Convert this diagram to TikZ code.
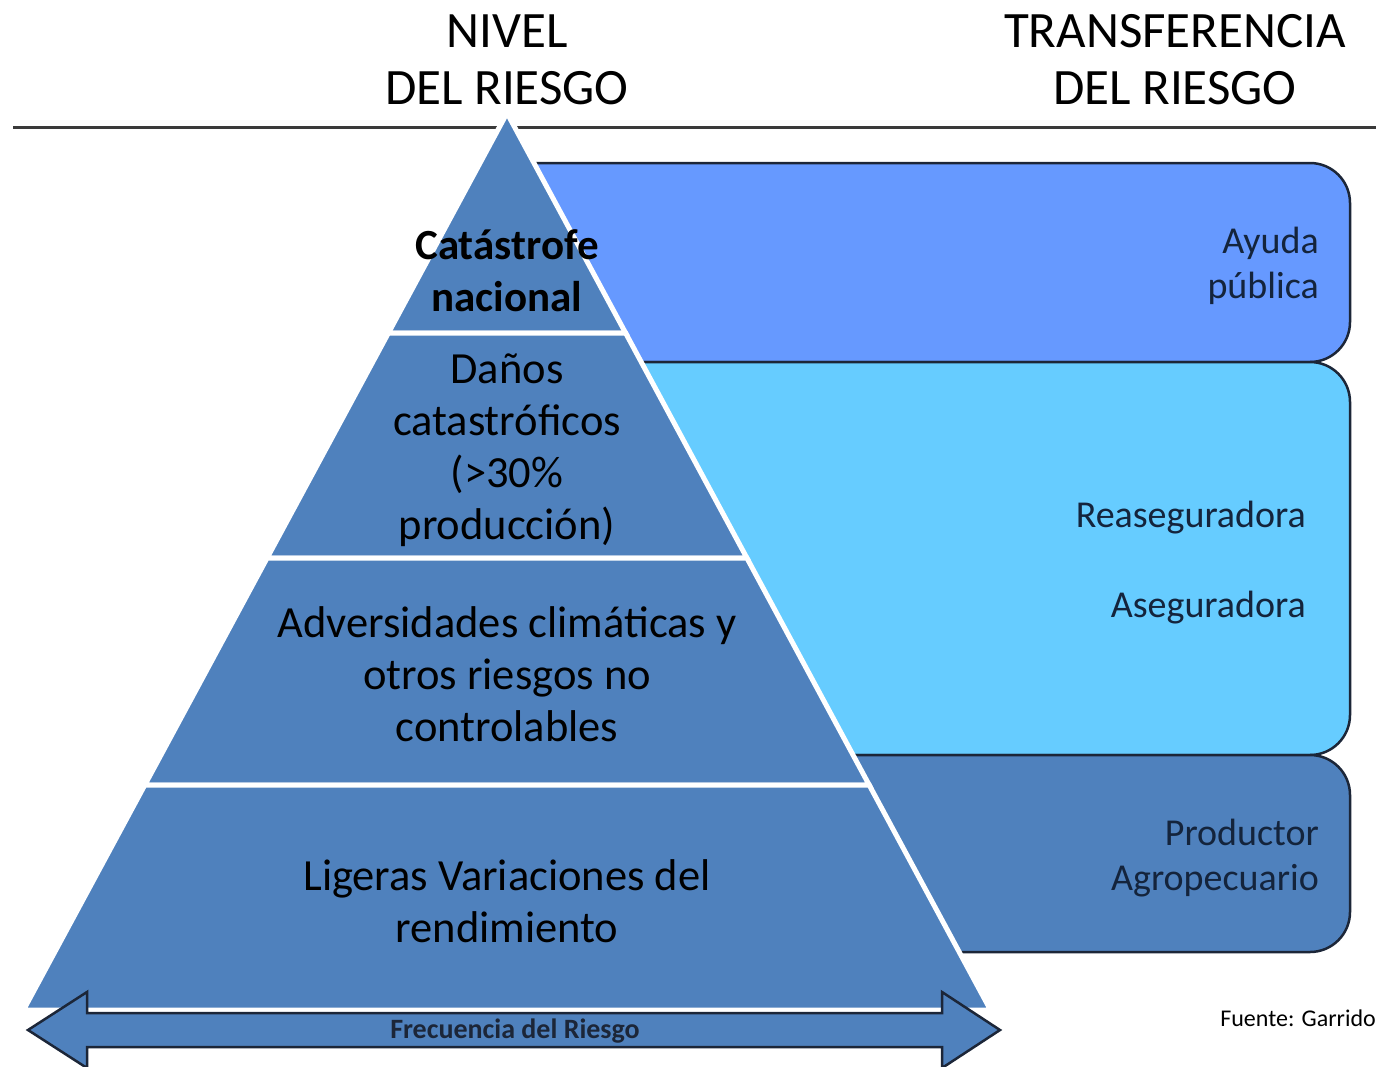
\documentclass[tikz,border=0pt]{standalone}
\usepackage{fontspec}
\setmainfont{Carlito}
\definecolor{pyr}{HTML}{4F81BD}
\definecolor{ayuda}{HTML}{6699FF}
\definecolor{rease}{HTML}{66CCFF}
\definecolor{boxline}{HTML}{1C2638}
\definecolor{navy}{HTML}{14243C}
\definecolor{rulegray}{HTML}{3A3A3A}
\begin{document}
\begin{tikzpicture}[x=1pt,y=-1pt,
  band/.style={fill=pyr, draw=white, line width=5pt, line join=miter},
  tbox/.style={rounded corners=40pt, draw=boxline, line width=2.5pt},
  ptext/.style={inner sep=0pt, align=center, text=black, font=\fontsize{44.5}{52}\selectfont},
  rtext/.style={inner sep=0pt, align=right, anchor=east, text=navy, font=\fontsize{38}{45}\selectfont},
  head/.style={inner sep=0pt, align=center, text=black, font=\fontsize{51}{57}\selectfont}]
\useasboundingbox (0,0) rectangle (1376,1066);

% header
\node[head] (hnivel) at (507,60) {NIVEL\\DEL RIESGO};
\node[head] (htrans) at (1175,60) {TRANSFERENCIA\\DEL RIESGO};
\draw[rulegray, line width=3pt] (13,127) -- (1376,127);

% transfer boxes (left part hidden behind the pyramid)
\draw[tbox, fill=ayuda] (470,163) rectangle (1350,362);
\draw[tbox, fill=rease] (470,362) rectangle (1350,755);
\draw[tbox, fill=pyr] (470,755) rectangle (1350,952);

% pyramid bands
\draw[band] (507,113) -- (625.6,333) -- (388.4,333) -- cycle;
\draw[band] (388.4,333) -- (625.6,333) -- (746.9,558) -- (267.1,558) -- cycle;
\draw[band] (267.1,558) -- (746.9,558) -- (869.2,785) -- (144.8,785) -- cycle;
\draw[band] (144.8,785) -- (869.2,785) -- (990.5,1010) -- (23.5,1010) -- cycle;

% pyramid texts
\node[ptext, font=\fontsize{43}{52}\selectfont\bfseries] (cat) at (507,271) {Catástrofe\\nacional};
\node[ptext] (danos) at (507,450) {Daños\\catastróficos\\(>30\%\\producción)};
\node[ptext] (adv) at (507,674) {Adversidades climáticas y\\otros riesgos no\\controlables};
\node[ptext] (lig) at (507,901) {Ligeras Variaciones del\\rendimiento};

% transfer texts
\node[rtext] (ayu) at (1319,266) {Ayuda\\pública};
\node[rtext] (rea) at (1306,518) {Reaseguradora};
\node[rtext] (ase) at (1306,608) {Aseguradora};
\node[rtext] (pro) at (1319,858) {Productor\\Agropecuario};

% frequency arrow
\draw[fill=pyr, draw=boxline, line width=2.5pt, line join=miter]
  (28,1030) -- (87,992) -- (87,1013) -- (942,1013) -- (942,992) -- (1000,1030)
  -- (942,1068) -- (942,1047) -- (87,1047) -- (87,1068) -- cycle;
\node[inner sep=0pt, text=boxline, font=\fontsize{28}{32}\selectfont\bfseries] (freq) at (515,1031) {Frecuencia del Riesgo};

% source
\node[inner sep=0pt, anchor=east, text=black, font=\fontsize{24}{28}\selectfont] (src) at (1376,1018) {Fuente: Garrido};
\end{tikzpicture}
\end{document}
